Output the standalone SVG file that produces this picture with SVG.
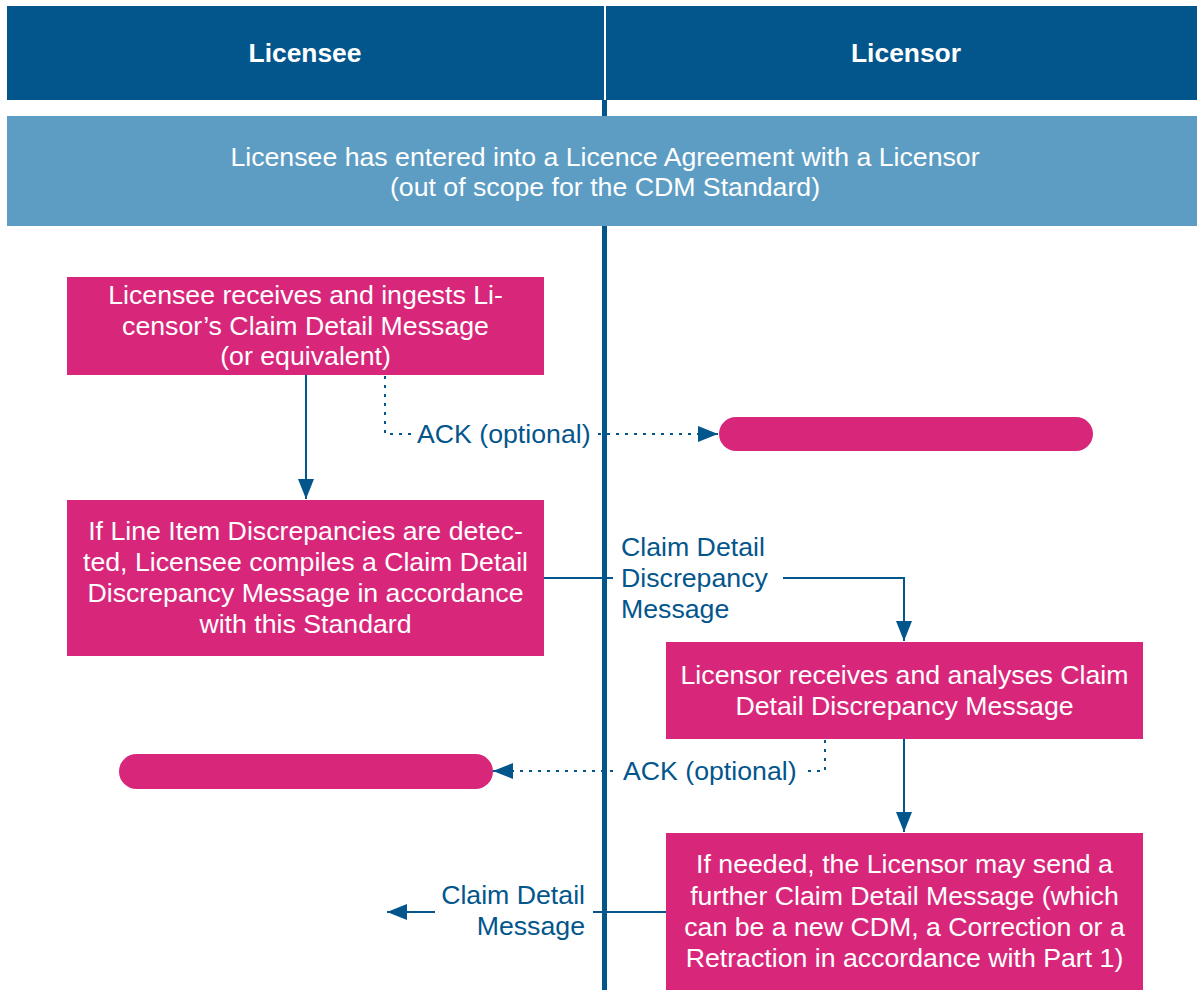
<svg xmlns="http://www.w3.org/2000/svg" width="1197" height="990" viewBox="0 0 1197 990">
  <style>
    .hdr { fill: #03568c; }
    .hdrt { font-family: "Liberation Sans", Arial, sans-serif; font-size: 26.4px; font-weight: bold; fill: #ffffff; text-anchor: middle; }
    .band { fill: #5d9dc4; }
    .box { fill: #d8277b; }
    .bt { font-family: "Liberation Sans", Arial, sans-serif; font-size: 26.7px; fill: #ffffff; text-anchor: middle; }
    .lbl { font-family: "Liberation Sans", Arial, sans-serif; font-size: 26.7px; fill: #03568c; }
    .ln { stroke: #03568c; stroke-width: 2; fill: none; }
    .dot { stroke: #03568c; stroke-width: 2; fill: none; stroke-dasharray: 3 6; }
  </style>
  <defs>
    <marker id="arr" viewBox="0 0 20 16" refX="20" refY="8" markerWidth="20" markerHeight="16" markerUnits="userSpaceOnUse" orient="auto">
      <path d="M0,0 L20,8 L0,16 z" fill="#03568c"/>
    </marker>
  </defs>
  <rect width="1197" height="990" fill="#ffffff"/>

  <g id="lane-line">
    <rect x="602" y="100" width="5" height="890" fill="#03568c"/>
  </g>

  <g id="header-licensee">
    <rect class="hdr" x="7" y="6" width="597" height="94"/>
    <text class="hdrt" x="305" y="62">Licensee</text>
  </g>
  <g id="header-licensor">
    <rect class="hdr" x="606" y="6" width="591" height="94"/>
    <text class="hdrt" x="906" y="62">Licensor</text>
  </g>

  <g id="agreement">
    <rect class="band" x="7" y="116" width="1190" height="110"/>
    <text class="bt" x="605" y="166">Licensee has entered into a Licence Agreement with a Licensor</text>
    <text class="bt" x="605" y="196">(out of scope for the CDM Standard)</text>
  </g>

  <g id="connectors">
    <path class="ln" d="M306,375 V499" marker-end="url(#arr)"/>
    <path class="dot" d="M385,376 V434 H411"/>
    <path class="dot" d="M598,434 H718" marker-end="url(#arr)"/>
    <path class="ln" d="M544,578 H613"/>
    <path class="ln" d="M783,578 H904 V641" marker-end="url(#arr)"/>
    <path class="dot" d="M825,740 V771 H808"/>
    <path class="dot" d="M613,771 H493" marker-end="url(#arr)"/>
    <path class="ln" d="M904,739 V832" marker-end="url(#arr)"/>
    <path class="ln" d="M666,912 H593"/>
    <path class="ln" d="M435,912 H387" marker-end="url(#arr)"/>
    <text class="lbl" x="417" y="443">ACK (optional)</text>
    <text class="lbl" x="623" y="780">ACK (optional)</text>
    <text class="lbl" x="621" y="556">Claim Detail</text>
    <text class="lbl" x="621" y="587">Discrepancy</text>
    <text class="lbl" x="621" y="618">Message</text>
    <text class="lbl" x="585" y="904" text-anchor="end">Claim Detail</text>
    <text class="lbl" x="585" y="935" text-anchor="end">Message</text>
  </g>

  <g id="licensee-ingests">
    <rect class="box" x="67" y="277" width="477" height="98"/>
    <text class="bt" x="305.5" y="304">Licensee receives and ingests Li-</text>
    <text class="bt" x="305.5" y="335">censor’s Claim Detail Message</text>
    <text class="bt" x="305.5" y="365">(or equivalent)</text>
  </g>

  <g id="licensor-pill">
    <rect class="box" x="719" y="417" width="374" height="34" rx="17"/>
  </g>

  <g id="licensee-compiles">
    <rect class="box" x="67" y="500" width="477" height="156"/>
    <text class="bt" x="305.5" y="540">If Line Item Discrepancies are detec-</text>
    <text class="bt" x="305.5" y="571">ted, Licensee compiles a Claim Detail</text>
    <text class="bt" x="305.5" y="602">Discrepancy Message in accordance</text>
    <text class="bt" x="305.5" y="633">with this Standard</text>
  </g>

  <g id="licensor-analyses">
    <rect class="box" x="666" y="642" width="477" height="97"/>
    <text class="bt" x="904.5" y="684">Licensor receives and analyses Claim</text>
    <text class="bt" x="904.5" y="715">Detail Discrepancy Message</text>
  </g>

  <g id="licensee-pill">
    <rect class="box" x="119" y="754" width="374" height="35" rx="17.5"/>
  </g>

  <g id="licensor-sends">
    <rect class="box" x="666" y="833" width="477" height="157"/>
    <text class="bt" x="904.5" y="873">If needed, the Licensor may send a</text>
    <text class="bt" x="904.5" y="905">further Claim Detail Message (which</text>
    <text class="bt" x="904.5" y="936">can be a new CDM, a Correction or a</text>
    <text class="bt" x="904.5" y="967">Retraction in accordance with Part 1)</text>
  </g>
</svg>
